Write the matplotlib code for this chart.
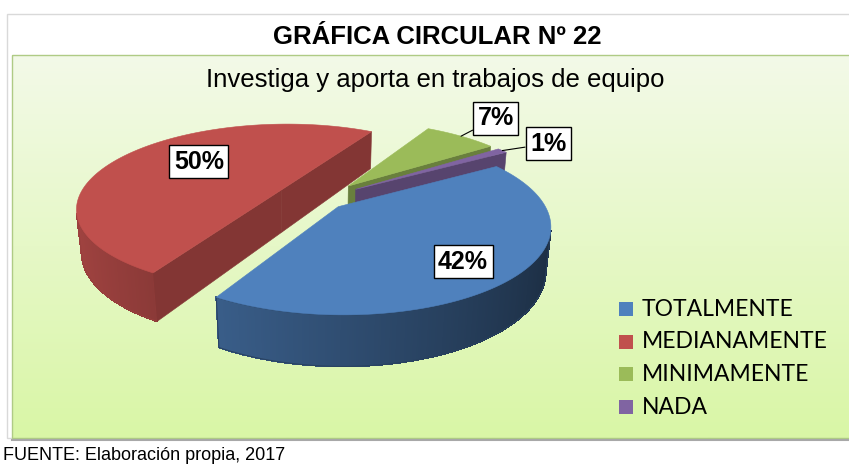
import numpy as np
import matplotlib.pyplot as plt
from matplotlib.patches import Rectangle, Polygon
from matplotlib.collections import PolyCollection
from matplotlib.colors import to_rgb

categories = ["TOTALMENTE", "MEDIANAMENTE", "MINIMAMENTE", "NADA"]
percents = [42, 50, 7, 1]
colors = ["#4F81BD", "#C0504D", "#9BBB59", "#8064A2"]

title = "GRÁFICA CIRCULAR Nº 22"
subtitle = "Investiga y aporta en trabajos de equipo"
source = "FUENTE: Elaboración propia, 2017"

# 3D view of the pie (Excel style, with perspective)
elev = np.radians(24)
dist = 4.5
scale = 915
cx, cy = 319, 199
explode = [0.13, 0.22, 0.22, 0.22]
depth = 0.235
start = 31.2  # first slice starts here and runs clockwise

ce, se = np.cos(elev), np.sin(elev)
cam = np.array([0.0, -dist * ce, dist * se])


def project(x, y, z):
    d = dist + y * ce - z * se
    return cx + scale * x / d, cy - scale * (y * se + z * ce) / d


def shade(c, f):
    return tuple(np.clip(np.array(to_rgb(c)) * f, 0, 1))


def facing(px, py, nx, ny):
    return (cam[0] - px) * nx + (cam[1] - py) * ny > 0


fig = plt.figure(figsize=(8.49, 4.68), dpi=100)
ax = fig.add_axes([0, 0, 1, 1])
ax.set_xlim(0, 849)
ax.set_ylim(468, 0)
ax.axis("off")

# chart frame + plot area
ax.add_patch(Rectangle((7, 14), 850, 424, fc="white", ec="#D9D9D9", lw=1, zorder=0))
grad = np.linspace(0, 1, 200)[:, None, None]
top_c = np.array(to_rgb("#F3FAE8"))
bot_c = np.array(to_rgb("#D9F6A6"))
img = top_c * (1 - grad) + bot_c * grad
ax.imshow(img, extent=(12, 849, 438, 55), aspect="auto", zorder=1)
ax.add_patch(Rectangle((12, 55), 840, 383, fc="none", ec="#AFCB85", lw=1, zorder=1.5))
ax.plot([12, 849], [439.5, 439.5], color="#A8A8A8", lw=1.5, zorder=1.5)

ax.text(437, 37, title, fontsize=18.5, fontweight="bold", family="Liberation Sans",
        ha="center", va="center")
ax.text(435, 80, subtitle, fontsize=18.5, family="Liberation Sans", ha="center", va="center", zorder=5)
ax.text(3, 456, source, fontsize=13, family="Liberation Sans", ha="left", va="center")

# slices
fracs = np.array(percents) / sum(percents)
ends = start - 360 * np.cumsum(fracs)
begins = np.concatenate([[start], ends[:-1]])

slices = []
for i in range(len(percents)):
    th1, th2 = ends[i], begins[i]
    mid = np.radians((th1 + th2) / 2)
    ox, oy = explode[i] * np.cos(mid), explode[i] * np.sin(mid)
    n = max(int((th2 - th1) * 2), 3)
    t = np.radians(np.linspace(th1, th2, n))
    slices.append(dict(i=i, th1=th1, th2=th2, mid=mid, ox=ox, oy=oy, t=t,
                       far=np.max(oy + np.sin(t))))

for s in sorted(slices, key=lambda s: -s["far"]):
    c = colors[s["i"]]
    ox, oy, t = s["ox"], s["oy"], s["t"]
    rx, ry = ox + np.cos(t), oy + np.sin(t)

    # outer wall, shaded by angle
    polys, fcs, vis = [], [], []
    for j in range(len(t) - 1):
        tm = (t[j] + t[j + 1]) / 2
        if not facing(ox + np.cos(tm), oy + np.sin(tm), np.cos(tm), np.sin(tm)):
            continue
        vis += [j, j + 1]
        polys.append([project(rx[j], ry[j], 0), project(rx[j + 1], ry[j + 1], 0),
                      project(rx[j + 1], ry[j + 1], -depth), project(rx[j], ry[j], -depth)])
        fcs.append(shade(c, 0.6 - 0.25 * np.cos(tm)))
    if polys:
        ax.add_collection(PolyCollection(polys, facecolors=fcs, edgecolors=fcs, lw=0.6,
                                         antialiased=False, zorder=3))
        idx = sorted(set(vis))
        outline = [project(rx[j], ry[j], 0) for j in idx] + \
                  [project(rx[j], ry[j], -depth) for j in idx[::-1]]
        ax.add_patch(Polygon(outline, fc="none", ec=fcs[len(fcs) // 2], lw=0.7, zorder=3))

    # cut faces
    for ang, nang in [(s["th1"], s["th1"] - 90), (s["th2"], s["th2"] + 90)]:
        a, na = np.radians(ang), np.radians(nang)
        if facing(ox, oy, np.cos(na), np.sin(na)):
            ex, ey = ox + np.cos(a), oy + np.sin(a)
            pts = [project(ox, oy, 0), project(ex, ey, 0), project(ex, ey, -depth), project(ox, oy, -depth)]
            ax.add_patch(Polygon(pts, fc=shade(c, 0.68), ec=shade(c, 0.68), lw=0.4, zorder=3))

    # top
    pts = [project(ox, oy, 0)] + [project(x, y, 0) for x, y in zip(rx, ry)]
    ax.add_patch(Polygon(pts, fc=c, ec=c, lw=0.4, zorder=3))

# data labels: inside ones at (radius, angle shift), outside ones with a leader line
inside_pos = {0: (0.77, -3), 1: (0.6, -10)}
outside_off = {2: (25, 13), 3: (33, 5)}
box = dict(boxstyle="square,pad=0.18", fc="white", ec="black", lw=1)
for s in slices:
    i = s["i"]
    lab = f"{percents[i]}%"
    if i in inside_pos:
        r, shift = inside_pos[i]
        a = s["mid"] + np.radians(shift)
        px, py = project(s["ox"] + r * np.cos(a), s["oy"] + r * np.sin(a), 0)
        ax.text(px, py, lab, fontsize=18, fontweight="bold", family="Liberation Sans",
                ha="center", va="center", bbox=box, zorder=6)
    else:
        px, py = project(s["ox"] + np.cos(s["mid"]), s["oy"] + np.sin(s["mid"]), 0)
        ax.annotate(lab, xy=(px, py), xytext=outside_off[i], textcoords="offset points",
                    fontsize=18, fontweight="bold", family="Liberation Sans",
                    ha="center", va="center", bbox=box, zorder=6,
                    arrowprops=dict(arrowstyle="-", color="black", lw=0.8, shrinkA=0, shrinkB=0))

# legend
for k, (name, c) in enumerate(zip(categories, colors)):
    y = 309 + k * 32.7
    ax.add_patch(Rectangle((619, y - 7), 14, 14, fc=c, ec="none", zorder=5))
    ax.text(642, y, name, fontsize=16.5, family="Lato", ha="left", va="center", zorder=5)

fig.savefig("out.png", dpi=100)
